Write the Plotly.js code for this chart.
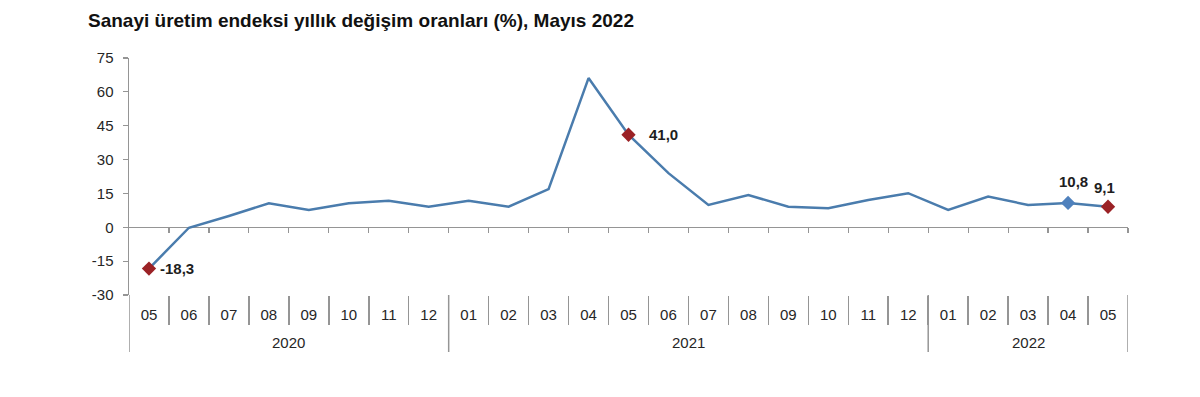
<!DOCTYPE html>
<html><head><meta charset="utf-8">
<script src="https://cdn.plot.ly/plotly-3.0.1.min.js"></script>
<style>html,body{margin:0;padding:0;background:#fff}#chart{width:1200px;height:397px}</style>
</head><body><div id="chart"></div>
<script>
const years  = ['2020','2020','2020','2020','2020','2020','2020','2020',
                '2021','2021','2021','2021','2021','2021','2021','2021','2021','2021','2021','2021',
                '2022','2022','2022','2022','2022'];
const months = ['05','06','07','08','09','10','11','12',
                '01','02','03','04','05','06','07','08','09','10','11','12',
                '01','02','03','04','05'];
const values = [-18.3, -0.2, 5.0, 10.6, 7.7, 10.6, 11.8, 9.1,
                11.8, 9.1, 16.9, 66.1, 41.0, 24.0, 9.9, 14.3, 9.1, 8.4, 12.1, 15.1,
                7.7, 13.6, 9.9, 10.8, 9.1];
const yTickVals = [-30, -15, 0, 15, 30, 45, 60, 75];
const highlightIdx = [0, 12, 23, 24];
const highlightColors = ['#9b2226', '#9b2226', '#4f81bd', '#9b2226'];

const FONT = 'Liberation Sans, Arial, sans-serif';
const GRAY = '#959595';
const fmt = v => v.toFixed(1).replace('.', ',');
const n = values.length;
const idx = values.map((_, i) => i);
const boundaries = Array.from({length: n + 1}, (_, i) => i - 0.5);

// year groups
const groups = [];
years.forEach((y, i) => {
  if (!groups.length || groups[groups.length - 1].year !== y) groups.push({year: y, start: i, end: i});
  else groups[groups.length - 1].end = i;
});
const yearBounds = [groups[0].start - 0.5].concat(groups.map(g => g.end + 0.5));

const plotH = 397 - 58 - 102;
const lineTrace = {
  type: 'scatter', mode: 'lines', x: idx, y: values,
  line: {color: '#4a7cad', width: 2.5}, hoverinfo: 'skip', showlegend: false
};
const markTrace = {
  type: 'scatter', mode: 'markers',
  x: highlightIdx, y: highlightIdx.map(i => values[i]),
  marker: {symbol: 'diamond', size: 11, color: highlightColors},
  cliponaxis: false, showlegend: false, hoverinfo: 'skip'
};
const tickTrace2 = {type: 'scatter', mode: 'lines', x: boundaries, y: boundaries.map(() => null),
  xaxis: 'x2', yaxis: 'y', showlegend: false, hoverinfo: 'skip'};
const tickTrace3 = {type: 'scatter', mode: 'lines', x: boundaries, y: boundaries.map(() => null),
  xaxis: 'x3', yaxis: 'y', showlegend: false, hoverinfo: 'skip'};

const labelShift = [{xanchor: 'left', yanchor: 'middle', xshift: 9, yshift: 0},
                    {xanchor: 'left', yanchor: 'middle', xshift: 18, yshift: 0},
                    {xanchor: 'center', yanchor: 'middle', xshift: 5, yshift: 21},
                    {xanchor: 'center', yanchor: 'middle', xshift: -4, yshift: 19}];
const annotations = highlightIdx.map((i, k) => Object.assign({
  x: i, y: values[i], xref: 'x', yref: 'y', text: '<b>' + fmt(values[i]) + '</b>',
  showarrow: false, font: {family: FONT, size: 15, color: '#1e1e1e'}
}, labelShift[k])).concat(groups.map(g => ({
  x: (g.start + g.end) / 2, y: -(342 - 295) / plotH, xref: 'x', yref: 'paper',
  text: g.year, showarrow: false, xanchor: 'center', yanchor: 'middle',
  font: {family: FONT, size: 15, color: '#262626'}
})));
const shapes = yearBounds.map(b => ({
  type: 'line', xref: 'x', yref: 'paper', x0: b, x1: b, y0: 0, y1: -(352 - 295) / plotH,
  line: {color: GRAY, width: 1.5}
}));

const yDomainZero = (0 - (-30)) / (75 - (-30));
const layout = {
  width: 1200, height: 397,
  margin: {l: 129, r: 72, t: 58, b: 102},
  paper_bgcolor: '#fff', plot_bgcolor: '#fff',
  font: {family: FONT, size: 15, color: '#262626'},
  title: {
    text: '<b>Sanayi üretim endeksi yıllık değişim oranları (%), Mayıs 2022</b>',
    font: {family: FONT, size: 19, color: '#111'},
    x: 88 / 1200, xref: 'container', xanchor: 'left',
    y: 1 - 20 / 397, yref: 'container', yanchor: 'middle'
  },
  xaxis: {
    type: 'linear', range: [-0.5, n - 0.5],
    tickmode: 'array', tickvals: idx, ticktext: months, ticks: '',
    ticklabelstandoff: 9,
    showline: false, showgrid: false, zeroline: false,
    tickfont: {family: FONT, size: 15, color: '#262626'}
  },
  xaxis2: {
    overlaying: 'x', anchor: 'y', type: 'linear', range: [-0.5, n - 0.5],
    tickmode: 'array', tickvals: boundaries.slice(1, -1), ticks: 'outside', ticklen: 29, tickwidth: 1.5,
    tickcolor: GRAY, showticklabels: false, showline: false, showgrid: false, zeroline: false
  },
  xaxis3: {
    overlaying: 'x', anchor: 'free', position: yDomainZero, type: 'linear', range: [-0.5, n - 0.5],
    tickmode: 'array', tickvals: boundaries.slice(1), ticks: 'outside', ticklen: 5, tickwidth: 1.2,
    tickcolor: GRAY, showticklabels: false, showline: false, showgrid: false, zeroline: false
  },
  yaxis: {
    range: [-30, 75], tickmode: 'array', tickvals: yTickVals, ticktext: yTickVals.map(String),
    showline: true, linecolor: GRAY, linewidth: 1.5,
    ticks: 'outside', ticklen: 5, tickwidth: 1.2, tickcolor: GRAY, ticklabelstandoff: 6,
    showgrid: false, zeroline: true, zerolinecolor: GRAY, zerolinewidth: 1.2,
    tickfont: {family: FONT, size: 15, color: '#262626'}
  },
  annotations: annotations,
  shapes: shapes
};
Plotly.newPlot('chart', [tickTrace2, tickTrace3, lineTrace, markTrace], layout, {displayModeBar: false, staticPlot: true});
</script>
</body></html>
